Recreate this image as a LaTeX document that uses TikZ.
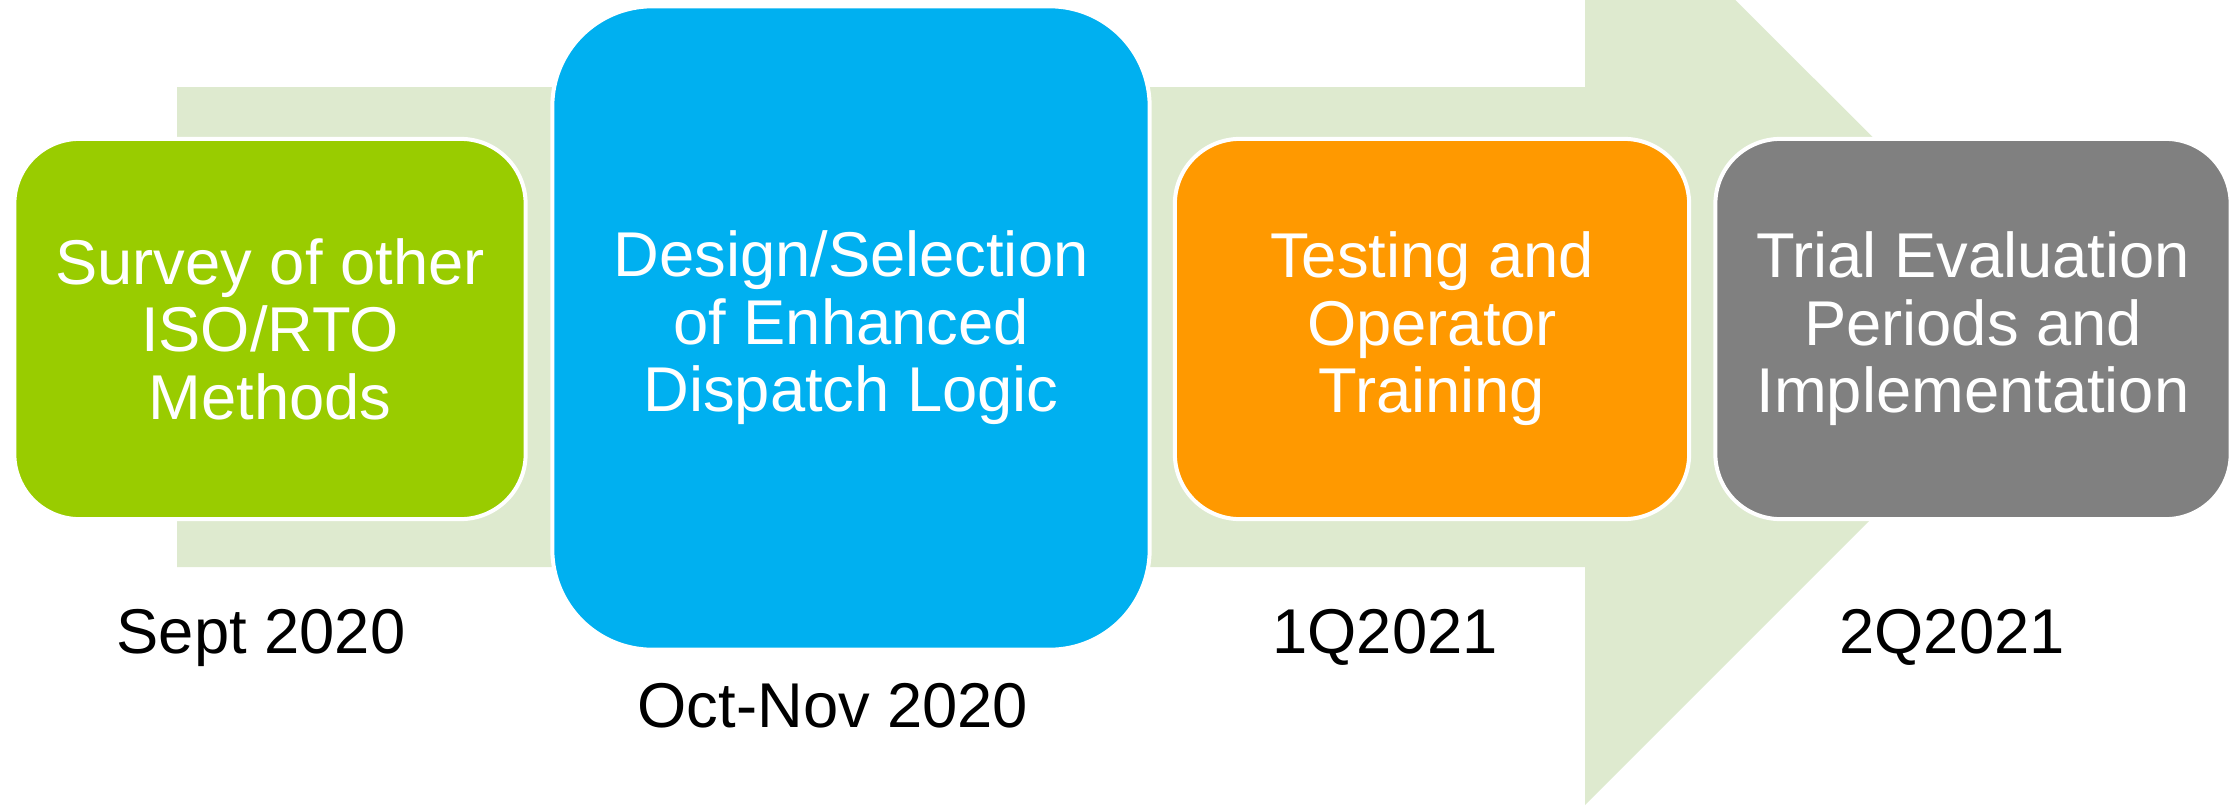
\documentclass[tikz,border=0pt]{standalone}
\usepackage{fontspec}
\setmainfont{Liberation Sans}
\definecolor{arrowgreen}{RGB}{222,234,207}
\definecolor{boxgreen}{RGB}{153,204,0}
\definecolor{boxblue}{RGB}{0,176,240}
\definecolor{boxorange}{RGB}{255,153,0}
\definecolor{boxgray}{RGB}{128,128,128}
\begin{document}
\begin{tikzpicture}[x=0.01cm,y=-0.01cm,
  stage/.style={draw=white, line width=0.04cm, rounded corners=0.65cm, text=white,
    align=center, font=\fontsize{18}{19.2}\selectfont, inner sep=0pt},
  datelabel/.style={text=black, font=\fontsize{18}{19.2}\selectfont, inner sep=0pt, anchor=base}]
\useasboundingbox (0,0) rectangle (2239,806);
\begin{scope}
  \clip (0,0) rectangle (2239,806);
  \fill[arrowgreen] (177,87) -- (1585,87) -- (1585,-150) -- (2063,327)
    -- (1585,805) -- (1585,567) -- (177,567) -- cycle;
\end{scope}
\node[stage, fill=boxgreen, minimum width=5.11cm, minimum height=3.80cm] (survey) at (270,329)
  {Survey of other\\ISO/RTO\\Methods};
\node[stage, fill=boxblue, rounded corners=1cm, minimum width=5.97cm, minimum height=6.43cm] (design) at (851,328)
  {Design/Selection\\of Enhanced\\Dispatch Logic};
\node[stage, fill=boxorange, minimum width=5.14cm, minimum height=3.80cm] (testing) at (1432,329)
  {Testing and\\Operator\\Training};
\node[stage, fill=boxgray, minimum width=5.15cm, minimum height=3.80cm] (trial) at (1973,329)
  {Trial Evaluation\\Periods and\\Implementation};
\node[datelabel] (d1) at (261,653) {Sept 2020};
\node[datelabel] (d2) at (833,727) {Oct-Nov 2020};
\node[datelabel] (d3) at (1385,653) {1Q2021};
\node[datelabel] (d4) at (1952,653) {2Q2021};
\end{tikzpicture}
\end{document}
